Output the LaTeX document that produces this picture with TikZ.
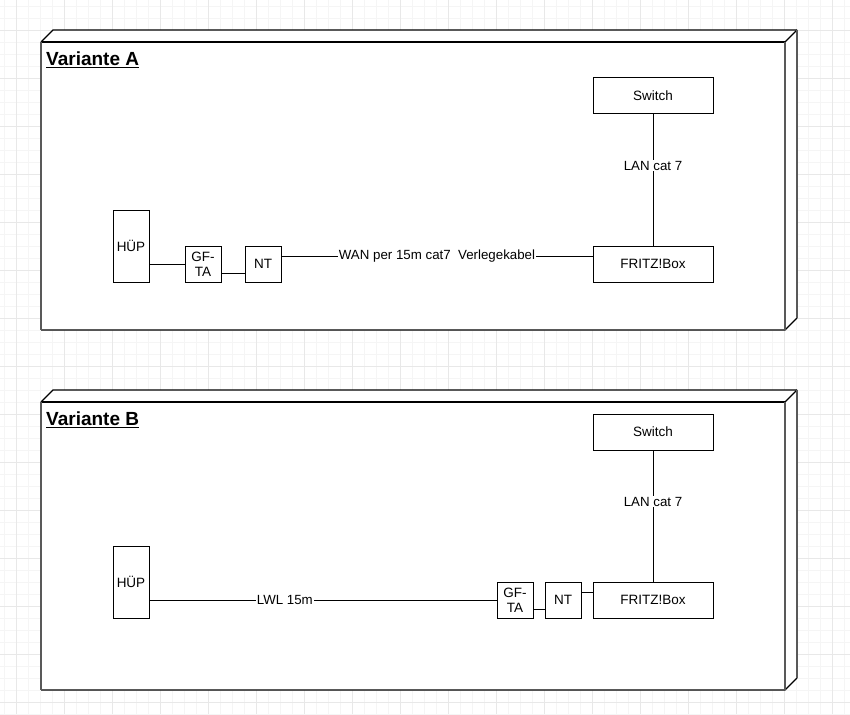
\documentclass[tikz,border=0pt]{standalone}
\usepackage{fontspec}
\setmainfont{Liberation Sans}
\begin{document}
\begin{tikzpicture}[x=1pt,y=-1pt,
  minorgrid/.style={draw=black!4, line width=0.8pt},
  majorgrid/.style={draw=black!9, line width=0.8pt},
  edgeline/.style={draw=black, line width=1.3pt},
  vedge/.style={draw=black!65, line width=1.3pt},
  blk/.style={draw=black, line width=1pt, fill=white, inner sep=0pt, align=center,
    font=\fontsize{13.5}{15}\selectfont},
  wide/.style={blk, minimum width=120pt, minimum height=36pt},
  sq/.style={blk, minimum width=36pt, minimum height=36pt},
  tall/.style={blk, minimum width=36pt, minimum height=72pt},
  wire/.style={draw=black, line width=1pt},
  lbl/.style={fill=white, inner sep=0.8pt, font=\fontsize{13.3}{15}\selectfont},
  ttl/.style={anchor=base west, inner sep=0pt, font=\fontsize{19}{22}\selectfont\bfseries}]
\useasboundingbox (0,0) rectangle (850,714);
\fill[white] (0,0) rectangle (850,714);
% grid
\foreach \gx in {4.5,16.5,...,850} \draw[minorgrid] (\gx,0) -- (\gx,714);
\foreach \gy in {6,18,...,714} \draw[minorgrid] (0,\gy) -- (850,\gy);
\foreach \gx in {16.5,64.5,...,850} \draw[majorgrid] (\gx,0) -- (\gx,714);
\foreach \gy in {30,78,...,714} \draw[majorgrid] (0,\gy) -- (850,\gy);
% frames
\foreach \oy in {0,360} {
  \begin{scope}[yshift=-\oy pt]
  \fill[white] (41,42) -- (53,30) -- (797,30) -- (797,318) -- (785,330) -- (41,330) -- cycle;
  \draw[edgeline] (41,42) -- (53,30) -- (797,30);
  \draw[edgeline] (785,42) -- (797,30);
  \draw[edgeline] (41,42) -- (785,42);
  \draw[edgeline] (41,330) -- (785,330) -- (797,318);
  \draw[vedge] (41,42) -- (41,330);
  \draw[vedge] (785,42) -- (785,330);
  \draw[vedge] (797,30) -- (797,318);
  \end{scope}
}
% Variante A
\node[ttl] (tA) at (46,65.5) {Variante A};
\draw[line width=1.5pt] ([yshift=-2pt]tA.base west) -- ([yshift=-2pt]tA.base east);
\node[wide] (swA) at (653,96) {Switch};
\node[wide] (fbA) at (653,264) {FRITZ!Box};
\node[tall] (hupA) at (131,246) {HÜP};
\node[sq] (gfA) at (203,264) {GF-\\TA};
\node[sq] (ntA) at (263,264) {NT};
\draw[wire] (hupA.east |- gfA.west) -- (gfA.west);
\draw[wire] ([yshift=-9pt]gfA.east) -- ([yshift=-9pt]ntA.west);
\draw[wire] ([yshift=8pt]ntA.east) -- ([yshift=8pt]fbA.west)
  node[lbl, midway] {WAN per 15m cat7\ \ Verlegekabel};
\draw[wire] (swA) -- (fbA) node[lbl, pos=0.39] {LAN cat 7};
% Variante B
\node[ttl] (tB) at (46,425.5) {Variante B};
\draw[line width=1.5pt] ([yshift=-2pt]tB.base west) -- ([yshift=-2pt]tB.base east);
\node[wide] (swB) at (653,432) {Switch};
\node[wide] (fbB) at (653,600) {FRITZ!Box};
\node[tall] (hupB) at (131,582) {HÜP};
\node[sq] (gfB) at (515,600) {GF-\\TA};
\node[sq] (ntB) at (563,600) {NT};
\draw[wire] (hupB.east |- gfB.west) -- (gfB.west) node[lbl, pos=0.39] {LWL 15m};
\draw[wire] ([yshift=-9pt]gfB.east) -- ([yshift=-9pt]ntB.west);
\draw[wire] ([yshift=8pt]ntB.east) -- ([yshift=8pt]fbB.west);
\draw[wire] (swB) -- (fbB) node[lbl, pos=0.39] {LAN cat 7};
\end{tikzpicture}
\end{document}
